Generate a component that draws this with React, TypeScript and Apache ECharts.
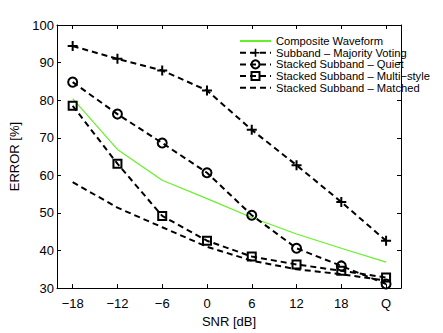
import React, { useEffect, useRef } from "react";
import * as echarts from "echarts";

const categories = ["-18", "-12", "-6", "0", "6", "12", "18", "Q"];
const xPositions = [-18, -12, -6, 0, 6, 12, 18, 24];
const composite = [80.4, 66.9, 58.7, 53.8, 48.8, 44.4, 40.6, 36.9];
const majority = [94.4, 91.0, 87.9, 82.6, 72.1, 62.7, 52.9, 42.6];
const quiet = [84.8, 76.3, 68.6, 60.7, 49.4, 40.6, 35.9, 31.1];
const multiStyle = [78.5, 63.1, 49.2, 42.6, 38.4, 36.3, 34.6, 32.8];
const matched = [58.2, 51.4, 46.2, 41.0, 37.3, 35.0, 33.7, 32.0];
const yTicks = [30, 40, 50, 60, 70, 80, 90, 100];

const FONT = "Liberation Sans, Arial, sans-serif";
const PLUS = "path://M4,0H6V4H10V6H6V10H4V6H0V4H4Z";
const GREEN = "#66f028";

const pts = (vals: number[]) => vals.map((v, i) => [xPositions[i], v]);

export default function App() {
  const ref = useRef<HTMLDivElement>(null);
  useEffect(() => {
    if (!ref.current) return;
    const chart = echarts.init(ref.current, undefined, { renderer: "svg" });
    const dash = { type: [6, 4] as any, width: 2, color: "#000" };
    const axisLine = { show: true, onZero: false, lineStyle: { color: "#000", width: 1 } };
    const label = (v: number) => {
      const i = xPositions.indexOf(v);
      return i >= 0 ? categories[i].replace("-", "\u2212") : "";
    };
    const tick = { inside: true, length: 4, lineStyle: { color: "#000" } };
    const hollow = { color: "rgba(0,0,0,0)", borderColor: "#000", borderWidth: 2 };
    chart.setOption({
      animation: false,
      backgroundColor: "#fff",
      grid: { left: 57, right: 42, top: 25, bottom: 37, containLabel: false },
      legend: {
        orient: "vertical",
        left: 234,
        top: 30.5,
        itemWidth: 31,
        itemHeight: 10,
        itemGap: 0.7,
        textStyle: { fontFamily: FONT, fontSize: 11.2, lineHeight: 11, color: "#000" },
        data: [
          "Composite Waveform",
          "Subband \u2013 Majority Voting",
          "Stacked Subband \u2013 Quiet",
          "Stacked Subband \u2013 Multi\u2212style",
          "Stacked Subband \u2013 Matched",
        ],
      },
      xAxis: [
        {
          type: "value",
          min: -20.1,
          max: 26.0,
          position: "bottom",
          name: "SNR [dB]",
          nameLocation: "middle",
          nameGap: 21,
          nameTextStyle: { fontFamily: FONT, fontSize: 13, color: "#000" },
          axisLine,
          splitLine: { show: false },
          axisTick: { ...tick, customValues: xPositions },
          axisLabel: {
            customValues: xPositions,
            formatter: label,
            fontFamily: FONT,
            fontSize: 13,
            color: "#000",
            margin: 9,
          },
        },
        {
          type: "value",
          min: -20.1,
          max: 26.0,
          position: "top",
          axisLine,
          splitLine: { show: false },
          axisTick: { ...tick, customValues: xPositions },
          axisLabel: { show: false },
        },
      ],
      yAxis: [
        {
          type: "value",
          min: 30,
          max: 100,
          interval: 10,
          position: "left",
          name: "ERROR [%]",
          nameLocation: "middle",
          nameGap: 21,
          nameRotate: 90,
          nameTextStyle: { fontFamily: FONT, fontSize: 13, color: "#000" },
          axisLine,
          splitLine: { show: false },
          axisTick: tick,
          axisLabel: { fontFamily: FONT, fontSize: 13, color: "#000", margin: 3, customValues: yTicks },
        },
        {
          type: "value",
          min: 30,
          max: 100,
          interval: 10,
          position: "right",
          axisLine,
          splitLine: { show: false },
          axisTick: tick,
          axisLabel: { show: false },
        },
      ],
      series: [
        {
          name: "Composite Waveform",
          type: "line",
          data: pts(composite),
          symbol: "none",
          lineStyle: { color: GREEN, width: 1.2 },
          itemStyle: { color: "rgba(0,0,0,0)", borderColor: "rgba(0,0,0,0)" },
          z: 2,
        },
        {
          name: "Subband \u2013 Majority Voting",
          type: "line",
          data: pts(majority),
          symbol: PLUS,
          symbolSize: 10,
          lineStyle: dash,
          itemStyle: { color: "#000" },
        },
        {
          name: "Stacked Subband \u2013 Quiet",
          type: "line",
          data: pts(quiet),
          symbol: "circle",
          symbolSize: 9,
          lineStyle: dash,
          itemStyle: hollow,
        },
        {
          name: "Stacked Subband \u2013 Multi\u2212style",
          type: "line",
          data: pts(multiStyle),
          symbol: "rect",
          symbolSize: 8,
          lineStyle: dash,
          itemStyle: hollow,
        },
        {
          name: "Stacked Subband \u2013 Matched",
          type: "line",
          data: pts(matched),
          symbol: "none",
          lineStyle: dash,
          itemStyle: { color: "rgba(0,0,0,0)", borderColor: "rgba(0,0,0,0)" },
        },
      ],
    });
    return () => chart.dispose();
  }, []);
  return <div ref={ref} style={{ width: 443, height: 333, position: "absolute", left: 0, top: 0 }} />;
}
